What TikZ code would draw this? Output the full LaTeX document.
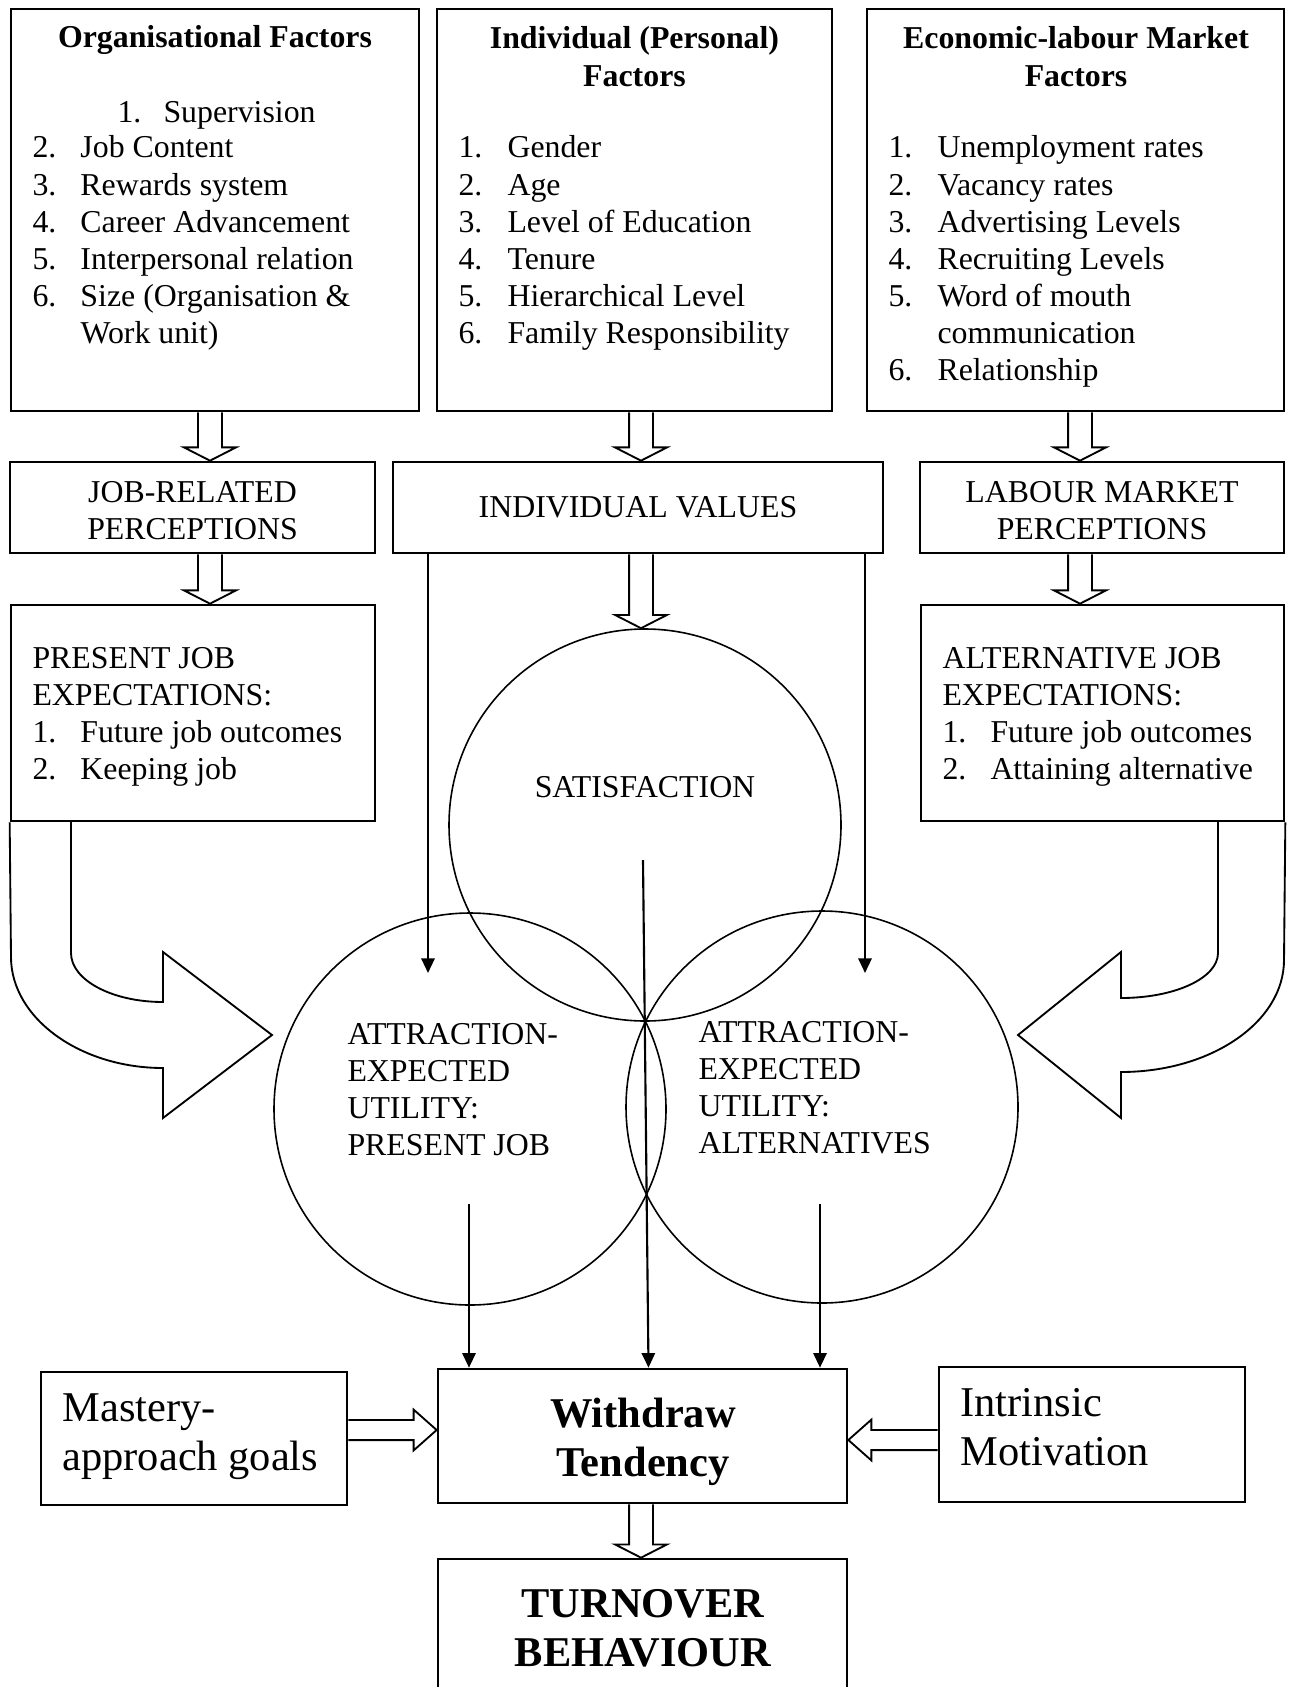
\documentclass[tikz,border=0pt]{standalone}
\usepackage{fontspec}
\setmainfont{Liberation Serif}
\usetikzlibrary{arrows.meta,calc}
\newdimen\pxu \pxu=0.377pt
\newcommand{\hollowdown}[3]{%
  \draw[blockarrow] let \p1=(#2), \p2=(#3), \p3=(#1,0) in
    (\x3-4.5pt,\y1) -- (\x3-4.5pt,\y2+5pt) -- (\x3-9.8pt,\y2+5pt) -- (\x3,\y2)
    -- (\x3+9.8pt,\y2+5pt) -- (\x3+4.5pt,\y2+5pt) -- (\x3+4.5pt,\y1);}
\newcommand{\hollowside}[4]{%
  \draw[blockarrow] let \p1=(#2), \p2=(#3), \p3=(0,#1), \n1={#4*8.7} in
    (\x1,\y3+3.8pt) -- (\x2+\n1 pt,\y3+3.8pt) -- (\x2+\n1 pt,\y3+7.7pt) -- (\x2,\y3)
    -- (\x2+\n1 pt,\y3-7.7pt) -- (\x2+\n1 pt,\y3-3.8pt) -- (\x1,\y3-3.8pt);}
\begin{document}
\begin{tikzpicture}[x=0.377pt,y=-0.377pt,
    font=\fontsize{12}{13.95}\selectfont,
    panel/.style={draw,line width=1pt,inner sep=0pt},
    ring/.style={draw,circle,line width=0.6pt,inner sep=0pt,minimum size=392\pxu},
    txt/.style={inner sep=0pt},
    boldtxt/.style={font=\fontsize{12}{13.95}\selectfont\bfseries},
    bigtxt/.style={font=\fontsize{16}{18.6}\selectfont},
    bigbold/.style={font=\fontsize{16}{18.6}\selectfont\bfseries},
    feed/.style={line width=0.8pt,-{Triangle[length=5.5pt,width=5pt]}},
    blockarrow/.style={line width=0.7pt,line join=miter}]
  \useasboundingbox (0,0) rectangle (1289,1687);

  \node[panel,minimum width=408\pxu,minimum height=402\pxu] (orgf) at (215,210) {};
  \node[panel,minimum width=395\pxu,minimum height=402\pxu] (indf) at (634.5,210) {};
  \node[panel,minimum width=417\pxu,minimum height=402\pxu] (ecof) at (1075.5,210) {};

  \node[txt,boldtxt,anchor=base] (orgt) at (215,48) {Organisational Factors};
  \node[txt,anchor=base west] (org1) at (117,122) {\makebox[46\pxu][l]{1.}Supervision};
  \node[txt,anchor=base west] (orgl) at (32,158) {\begin{tabular}[t]{@{}p{48\pxu}@{}l@{}}
    2. & Job Content\\
    3. & Rewards system\\
    4. & Career Advancement\\
    5. & Interpersonal relation\\
    6. & Size (Organisation \&\\
       & Work unit)
  \end{tabular}};

  \node[txt,boldtxt,anchor=base] (indt) at (634.5,49) {\begin{tabular}[t]{@{}c@{}}Individual (Personal)\\Factors\end{tabular}};
  \node[txt,anchor=base west] (indl) at (458,158) {\begin{tabular}[t]{@{}p{49\pxu}@{}l@{}}
    1. & Gender\\
    2. & Age\\
    3. & Level of Education\\
    4. & Tenure\\
    5. & Hierarchical Level\\
    6. & Family Responsibility
  \end{tabular}};

  \node[txt,boldtxt,anchor=base] (ecot) at (1076,49) {\begin{tabular}[t]{@{}c@{}}Economic-labour Market\\Factors\end{tabular}};
  \node[txt,anchor=base west] (ecol) at (888,158) {\begin{tabular}[t]{@{}p{49\pxu}@{}l@{}}
    1. & Unemployment rates\\
    2. & Vacancy rates\\
    3. & Advertising Levels\\
    4. & Recruiting Levels\\
    5. & Word of mouth\\
       & communication\\
    6. & Relationship
  \end{tabular}};

  \node[panel,minimum width=365\pxu,minimum height=91\pxu] (jobp) at (192.5,507.5) {};
  \node[txt,anchor=base] (jobt) at (192.5,502) {\begin{tabular}[t]{@{}c@{}}JOB-RELATED\\PERCEPTIONS\end{tabular}};
  \node[panel,minimum width=490\pxu,minimum height=91\pxu] (indv) at (638,507.5) {INDIVIDUAL VALUES};
  \node[panel,minimum width=364\pxu,minimum height=91\pxu] (labp) at (1102,507.5) {};
  \node[txt,anchor=base] (labt) at (1102,502) {\begin{tabular}[t]{@{}c@{}}LABOUR MARKET\\PERCEPTIONS\end{tabular}};

  \node[panel,minimum width=364\pxu,minimum height=216\pxu] (pjob) at (193,713) {};
  \node[txt,anchor=base west] (pjobt) at (32,668) {\begin{tabular}[t]{@{}l@{}}
    PRESENT JOB\\
    EXPECTATIONS:\\
    \makebox[48\pxu][l]{1.}Future job outcomes\\
    \makebox[48\pxu][l]{2.}Keeping job
  \end{tabular}};
  \node[panel,minimum width=363\pxu,minimum height=216\pxu] (ajob) at (1102.5,713) {};
  \node[txt,anchor=base west] (ajobt) at (942,668) {\begin{tabular}[t]{@{}l@{}}
    ALTERNATIVE JOB\\
    EXPECTATIONS:\\
    \makebox[48\pxu][l]{1.}Future job outcomes\\
    \makebox[48\pxu][l]{2.}Attaining alternative
  \end{tabular}};

  \node[ring] (sat) at (645,825) {};
  \node[ring] (attp) at (470,1109) {};
  \node[ring] (atta) at (822,1107) {};
  \node[txt,anchor=base] (satt) at (645,797) {SATISFACTION};
  \node[txt,anchor=base west] (attpt) at (347,1044) {\begin{tabular}[t]{@{}l@{}}ATTRACTION-\\EXPECTED\\UTILITY:\\PRESENT JOB\end{tabular}};
  \node[txt,anchor=base west] (attat) at (698,1042) {\begin{tabular}[t]{@{}l@{}}ATTRACTION-\\EXPECTED\\UTILITY:\\ALTERNATIVES\end{tabular}};

  \node[panel,minimum width=409\pxu,minimum height=134\pxu] (withd) at (642.5,1436) {};
  \node[txt,bigbold,anchor=base] (witht) at (643,1427) {\begin{tabular}[t]{@{}c@{}}Withdraw\\Tendency\end{tabular}};
  \node[panel,minimum width=409\pxu,minimum height=134\pxu] (turn) at (642.5,1626) {};
  \node[txt,bigbold,anchor=base] (turnt) at (643,1617) {\begin{tabular}[t]{@{}c@{}}TURNOVER\\BEHAVIOUR\end{tabular}};
  \node[panel,minimum width=306\pxu,minimum height=133\pxu] (mast) at (194,1438.5) {};
  \node[txt,bigtxt,anchor=base west] (mastt) at (62,1421) {\begin{tabular}[t]{@{}l@{}}Mastery-\\approach goals\end{tabular}};
  \node[panel,minimum width=306\pxu,minimum height=135\pxu] (intr) at (1092,1434.5) {};
  \node[txt,bigtxt,anchor=base west] (intrt) at (960,1416) {\begin{tabular}[t]{@{}l@{}}Intrinsic\\Motivation\end{tabular}};

  \hollowdown{210}{orgf.south}{jobp.north}
  \hollowdown{210}{jobp.south}{pjob.north}
  \hollowdown{641}{indf.south}{indv.north}
  \hollowdown{641}{indv.south}{sat.north}
  \hollowdown{1080}{ecof.south}{labp.north}
  \hollowdown{1080}{labp.south}{ajob.north}
  \hollowdown{641}{withd.south}{turn.north}
  \hollowside{1430}{mast.east}{withd.west}{-1}
  \hollowside{1440}{intr.west}{withd.east}{1}

  \draw[blockarrow] (pjob.south west) -- (11,957) .. controls (11,1018) and (80,1068) .. (163,1068)
    -- (163,1118) -- (272,1035) -- (163,952) -- (163,1002)
    .. controls (112,1002) and (71,980) .. (71,953) -- (71,821);
  \draw[blockarrow] (ajob.south east) -- (1284,960) .. controls (1284,1022) and (1211,1072) .. (1121,1072)
    -- (1121,1118) -- (1018,1035) -- (1121,952) -- (1121,998)
    .. controls (1175,998) and (1218,978) .. (1218,953) -- (1218,821);

  \coordinate (aL) at (428,973);
  \coordinate (aR) at (865,973);
  \coordinate (pL) at (469,1204);
  \coordinate (pR) at (820,1204);
  \coordinate (sM) at (643,860);
  \draw[feed] (indv.south -| aL) -- (aL);
  \draw[feed] (indv.south -| aR) -- (aR);
  \draw[feed] (pL) -- (pL |- withd.north);
  \draw[feed] (sM) -- ($(withd.north)+(6,0)$);
  \draw[feed] (pR) -- (pR |- withd.north);
\end{tikzpicture}
\end{document}
